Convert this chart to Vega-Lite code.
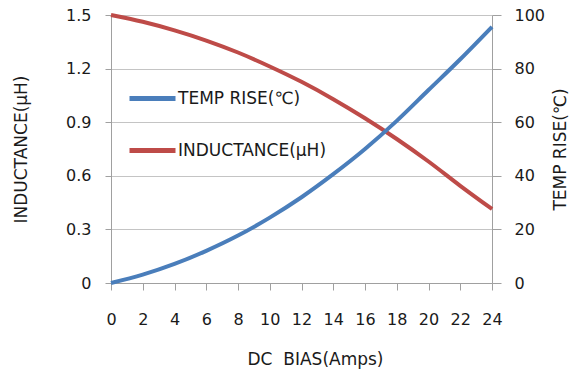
{
  "$schema": "https://vega.github.io/schema/vega-lite/v6.json",
  "width": 381,
  "height": 268,
  "autosize": {"type": "none"},
  "padding": {"left": 111, "top": 15, "right": 88, "bottom": 86},
  "background": "white",
  "config": {
    "font": "DejaVu Sans",
    "view": {"stroke": null},
    "axis": {
      "labelFont": "DejaVu Sans",
      "titleFont": "DejaVu Sans",
      "labelFontSize": 16,
      "titleFontSize": 17,
      "titleFontWeight": "normal",
      "labelColor": "#1a1a1a",
      "titleColor": "#1a1a1a",
      "domainColor": "#a0a0a0",
      "tickColor": "#a0a0a0",
      "gridColor": "#c4c4c4"
    }
  },
  "data": {
    "values": [
      {"x": 0, "inductance": 1.5, "temp": 0},
      {"x": 2, "inductance": 1.462, "temp": 3.1},
      {"x": 4, "inductance": 1.414, "temp": 7.1},
      {"x": 6, "inductance": 1.357, "temp": 12.0},
      {"x": 8, "inductance": 1.29, "temp": 17.7},
      {"x": 10, "inductance": 1.212, "temp": 24.4},
      {"x": 12, "inductance": 1.126, "temp": 32.0},
      {"x": 14, "inductance": 1.029, "temp": 40.6},
      {"x": 16, "inductance": 0.922, "temp": 50.0},
      {"x": 18, "inductance": 0.806, "temp": 60.5},
      {"x": 20, "inductance": 0.68, "temp": 72.0},
      {"x": 22, "inductance": 0.544, "temp": 83.5},
      {"x": 24, "inductance": 0.414, "temp": 95.6}
    ]
  },
  "encoding": {
    "x": {
      "field": "x",
      "type": "quantitative",
      "scale": {"domain": [0, 24], "nice": false, "zero": false},
      "axis": {
        "title": "DC\u00a0 BIAS(Amps)",
        "values": [0, 2, 4, 6, 8, 10, 12, 14, 16, 18, 20, 22, 24],
        "grid": false,
        "tickSize": 7,
        "labelPadding": 21,
        "titlePadding": 24,
        "titleX": 204,
        "labelFlush": false
      }
    }
  },
  "layer": [
    {
      "mark": {"type": "line", "strokeWidth": 4, "interpolate": "monotone"},
      "encoding": {
        "y": {
          "field": "inductance",
          "type": "quantitative",
          "scale": {"domain": [0, 1.5], "nice": false},
          "axis": {
            "title": "INDUCTANCE(μH)",
            "orient": "left",
            "values": [0, 0.3, 0.6, 0.9, 1.2, 1.5],
            "format": "~g",
            "tickSize": 6,
            "labelPadding": 14,
            "titlePadding": 35,
            "grid": true
          }
        },
        "color": {"datum": "INDUCTANCE(μH)"}
      }
    },
    {
      "mark": {"type": "line", "strokeWidth": 4, "interpolate": "monotone"},
      "encoding": {
        "y": {
          "field": "temp",
          "type": "quantitative",
          "scale": {"domain": [0, 100], "nice": false},
          "axis": {
            "title": "TEMP RISE(℃)",
            "orient": "right",
            "values": [0, 20, 40, 60, 80, 100],
            "tickSize": 9,
            "labelPadding": 13,
            "titlePadding": 8,
            "titleAngle": -90,
            "titleBaseline": "top",
            "grid": false
          }
        },
        "color": {
          "datum": "TEMP RISE(℃)",
          "scale": {
            "domain": ["TEMP RISE(℃)", "INDUCTANCE(μH)"],
            "range": ["#4a7ebb", "#be4b48"]
          },
          "legend": {
            "title": null,
            "orient": "none",
            "legendX": 16,
            "legendY": 58,
            "symbolType": "stroke",
            "symbolSize": 2116,
            "symbolStrokeWidth": 5,
            "labelFontSize": 17,
            "labelFont": "DejaVu Sans",
            "labelColor": "#1a1a1a",
            "labelOffset": 0,
            "rowPadding": 16
          }
        }
      }
    }
  ],
  "resolve": {"scale": {"y": "independent"}}
}
